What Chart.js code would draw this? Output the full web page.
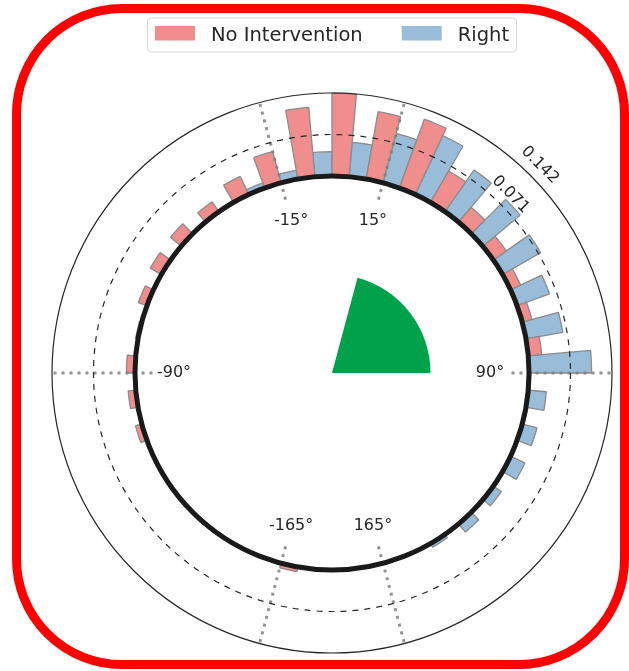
<!DOCTYPE html>
<html>
<head>
<meta charset="utf-8">
<script src="https://cdn.jsdelivr.net/npm/chart.js@4.4.1/dist/chart.umd.min.js"></script>
<style>
  html, body { margin: 0; padding: 0; background: #fff; }
  #wrap { position: relative; width: 629px; height: 671px; overflow: hidden; }
  #frame { position: absolute; left: 12px; top: 4px; width: 617px; height: 665px; box-sizing: border-box;
           border: 9px solid #ff0000; border-radius: 110px; pointer-events: none; }
  canvas { position: absolute; left: 0; top: 0; }
</style>
</head>
<body>
<div id="wrap">
  <canvas id="c" width="629" height="671"></canvas>
  <div id="frame"></div>
</div>
<script>
// Start angle (degrees, clockwise from north) of each 10° bin.
// The first half of a bin holds "No Intervention", the second half "Right".
const binStart = [0, 10, 20, 30, 40, 50, 60, 70, 80, 90, 100, 110, 120, 130, 140, 150, 160, 170,
                  180, 190, 200, 210, 220, 230, 240, 250, 260, 270, 280, 290, 300, 310, 320, 330, 340, 350];

const noIntervention = [0.142, 0.117, 0.125, 0.062, 0.033, 0.027, 0.019, 0.017, 0.023, 0.003,
                        0.003, 0.002, 0.003, 0.001, 0, 0, 0, 0,
                        0, 0.008, 0, 0, 0.003, 0, 0, 0.011, 0.013, 0.0145,
                        0.004, 0.0155, 0.022, 0.024, 0.0205, 0.034, 0.055, 0.119];

const rightHand = [0.059, 0.0875, 0.111, 0.087, 0.083, 0.075, 0.059, 0.064, 0.107, 0.031,
                   0.026, 0.027, 0.0165, 0.018, 0.007, 0, 0, 0,
                   0, 0, 0, 0, 0, 0, 0, 0, 0, 0,
                   0, 0, 0.002, 0.003, 0.003, 0.009, 0.015, 0.0415];

const seriesNames = ['No Intervention', 'Right'];
const seriesColors = ['rgb(240,141,141)', 'rgb(153,188,217)'];

const radialTicks = [0, 0.071, 0.142];
const radialTickLabels = ['', '0.071', '0.142'];

const markAngles = [-15, 15, -90, 90, -165, 165];
const markLabels = ['-15°', '15°', '-90°', '90°', '-165°', '165°'];

const targetZone = [15, 90];   // shaded sector inside the hub

// Split each bin in two 5° sectors for the polar-area layout.
const sectorLabels = [];
const redSectors = [];
const blueSectors = [];
binStart.forEach((a, k) => {
  sectorLabels.push(a + '°', (a + 5) + '°');
  redSectors.push(noIntervention[k], 0);
  blueSectors.push(0, rightHand[k]);
});

const rMax = radialTicks[radialTicks.length - 1];
const hubFraction = 0.7036;                       // share of the radius left empty in the middle
const rMin = -rMax * hubFraction / (1 - hubFraction);

const FONT = '"DejaVu Sans", "Noto Sans", sans-serif';
const toRad = d => (d - 90) * Math.PI / 180;

const hubPlugin = {
  id: 'hub',
  afterDatasetsDraw(chart) {
    const s = chart.scales.r, ctx = chart.ctx;
    const cx = s.xCenter, cy = s.yCenter;
    const r0 = s.getDistanceFromCenterForValue(0);
    const rTop = s.getDistanceFromCenterForValue(rMax);
    ctx.save();
    // empty hub
    ctx.beginPath();
    ctx.arc(cx, cy, r0, 0, Math.PI * 2);
    ctx.fillStyle = '#ffffff';
    ctx.fill();
    // dotted reference directions
    ctx.strokeStyle = 'rgba(128,128,128,0.85)';
    ctx.lineWidth = 3;
    ctx.setLineDash([3, 5]);
    markAngles.forEach(d => {
      const t = toRad(d);
      ctx.beginPath();
      ctx.moveTo(cx + Math.cos(t) * (rTop - 1.5), cy + Math.sin(t) * (rTop - 1.5));
      ctx.lineTo(cx + Math.cos(t) * (r0 - 20), cy + Math.sin(t) * (r0 - 20));
      ctx.stroke();
    });
    ctx.restore();
  },
  afterDraw(chart) {
    const s = chart.scales.r, ctx = chart.ctx;
    const cx = s.xCenter, cy = s.yCenter;
    const r0 = s.getDistanceFromCenterForValue(0);
    ctx.save();
    // target sector
    ctx.beginPath();
    ctx.moveTo(cx, cy);
    ctx.arc(cx, cy, r0 * 0.5, toRad(targetZone[0]), toRad(targetZone[1]));
    ctx.closePath();
    ctx.fillStyle = '#00a14b';
    ctx.fill();

    // direction labels
    ctx.fillStyle = '#262626';
    ctx.font = '16px ' + FONT;
    ctx.textAlign = 'center';
    ctx.textBaseline = 'middle';
    markAngles.forEach((d, i) => {
      const t = toRad(d), r = r0 - 39;
      ctx.fillText(markLabels[i], cx + Math.cos(t) * r, cy + Math.sin(t) * r);
    });

    // radial tick labels along the 45° direction
    radialTicks.forEach((v, i) => {
      if (!radialTickLabels[i]) return;
      const t = toRad(45), r = s.getDistanceFromCenterForValue(v) + 14;
      ctx.save();
      ctx.translate(cx + Math.cos(t) * r, cy + Math.sin(t) * r);
      ctx.rotate(Math.PI / 4);
      ctx.fillText(radialTickLabels[i], 0, 0);
      ctx.restore();
    });
    ctx.restore();
  }
};

const legendBox = {
  id: 'legendBox',
  afterDraw(chart) {
    const ctx = chart.ctx;
    const cx = chart.scales.r.xCenter;
    ctx.save();
    ctx.font = '19.5px ' + FONT;
    const handle = 40, gapText = 16, gapItem = 39, pad = 7.5;
    const items = chart.data.datasets.map(d => ({
      text: d.label, color: d.backgroundColor, w: ctx.measureText(d.label).width
    }));
    const total = items.reduce((sum, it, i) => sum + handle + gapText + it.w + (i ? gapItem : 0), 0);
    const top = 18, h = 34;
    const x0 = cx - total / 2 - pad;
    ctx.beginPath();
    ctx.roundRect(x0, top, total + pad * 2, h, 4);
    ctx.fillStyle = 'rgba(255,255,255,0.85)';
    ctx.fill();
    ctx.strokeStyle = '#d6d6d6';
    ctx.lineWidth = 1;
    ctx.stroke();
    let x = cx - total / 2;
    ctx.textAlign = 'left';
    ctx.textBaseline = 'alphabetic';
    items.forEach((it, i) => {
      if (i) x += gapItem;
      ctx.fillStyle = it.color;
      ctx.fillRect(x, 26, handle, 14.5);
      x += handle + gapText;
      ctx.fillStyle = '#262626';
      ctx.fillText(it.text, x, 40.7);
      x += it.w;
    });
    ctx.restore();
  }
};

new Chart(document.getElementById('c'), {
  type: 'polarArea',
  data: {
    labels: sectorLabels,
    datasets: [
      { label: seriesNames[0], data: redSectors, backgroundColor: seriesColors[0],
        borderColor: '#8c8c8c', borderWidth: 1.3 },
      { label: seriesNames[1], data: blueSectors, backgroundColor: seriesColors[1],
        borderColor: '#8c8c8c', borderWidth: 1.3 }
    ]
  },
  options: {
    responsive: false,
    animation: false,
    events: [],
    layout: { padding: { left: 52, right: 17, top: 93, bottom: 18 } },
    plugins: { legend: { display: false }, tooltip: { enabled: false } },
    scales: {
      r: {
        startAngle: 0,
        min: rMin,
        max: rMax,
        ticks: { display: false },
        afterBuildTicks: sc => { sc.ticks = radialTicks.map(v => ({ value: v })); },
        grid: {
          z: 1,
          circular: true,
          color: c => (c.tick && c.tick.value === 0) ? '#1a1a1a' : '#262626',
          lineWidth: c => (c.tick && c.tick.value === 0) ? 5 : 1.2
        },
        border: { dash: c => (c.tick && c.tick.value === radialTicks[1]) ? [6, 6] : [] },
        angleLines: { display: false },
        pointLabels: { display: false }
      }
    }
  },
  plugins: [hubPlugin, legendBox]
});
</script>
</body>
</html>
